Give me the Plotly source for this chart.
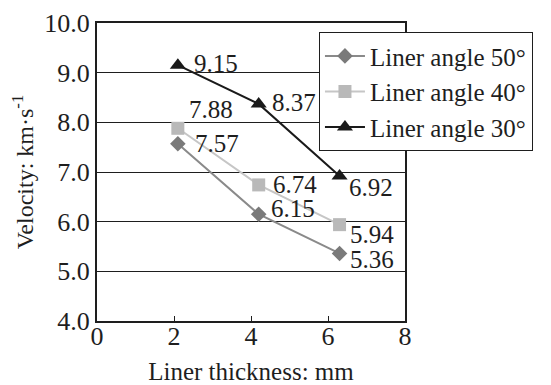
import plotly.graph_objects as go

thickness = [2.1, 4.2, 6.3]
v50 = [7.57, 6.15, 5.36]
v40 = [7.88, 6.74, 5.94]
v30 = [9.15, 8.37, 6.92]
names = ["Liner angle 50°", "Liner angle 40°", "Liner angle 30°"]
x_ticks = [0, 2, 4, 6, 8]
y_ticks = [4, 5, 6, 7, 8, 9, 10]

# label pixel offsets (style only)
off50 = [(15, 0), (10, 6), (8, -6)]
off40 = [(9, 19), (12, 0), (8, -10)]
off30 = [(14, 2), (11, 1), (7, -12)]

font = "Liberation Serif"
ink = "#1e1e1e"
fig = go.Figure()
series = [
    (v50, names[0], "#8a8a8a", "#7a7a7a", "diamond", 12, off50),
    (v40, names[1], "#c6c6c6", "#b9b9b9", "square", 13, off40),
    (v30, names[2], "#1a1a1a", "#1a1a1a", "triangle-up", 14, off30),
]
for vals, nm, lc, mc, sym, sz, offs in series:
    fig.add_trace(go.Scatter(x=thickness, y=vals, name=nm, mode="lines+markers",
                             line=dict(color=lc, width=2),
                             marker=dict(symbol=sym, size=sz, color=mc)))
    for xv, yv, (dx, dy) in zip(thickness, vals, offs):
        fig.add_annotation(x=xv, y=yv, text=f"{yv:.2f}", showarrow=False,
                           xanchor="left", yanchor="middle", xshift=dx, yshift=dy,
                           font=dict(family=font, size=25, color=ink))

fig.update_layout(
    width=551, height=385,
    margin=dict(l=89, r=154, t=15, b=72, autoexpand=False),
    plot_bgcolor="white", paper_bgcolor="white",
    font=dict(family=font, size=24, color=ink),
    showlegend=True,
    legend=dict(x=0.72, y=0.97, xanchor="left", yanchor="top",
                bgcolor="white", bordercolor=ink, borderwidth=1.2,
                font=dict(family=font, size=25, color=ink),
                tracegroupgap=0, itemwidth=40),
    xaxis=dict(range=[0, 8], tickvals=x_ticks, ticks="inside", ticklen=5,
               tickcolor=ink, showgrid=False, zeroline=False, automargin=False,
               showline=True, linecolor=ink, linewidth=2, mirror=True,
               ticklabelstandoff=-9,
               title=dict(text="Liner thickness: mm", font=dict(family=font, size=25), standoff=12),
               tickfont=dict(family=font, size=26)),
    yaxis=dict(range=[4, 10], tickvals=y_ticks, tickformat=".1f", ticks="",
               showgrid=True, gridcolor=ink, gridwidth=1, zeroline=False, automargin=False,
               showline=True, linecolor=ink, linewidth=2, mirror=True,
               title=dict(text="Velocity: km·s<sup>-1</sup>", font=dict(family=font, size=24), standoff=6),
               tickfont=dict(family=font, size=26)),
)
fig.write_html("out.html")
